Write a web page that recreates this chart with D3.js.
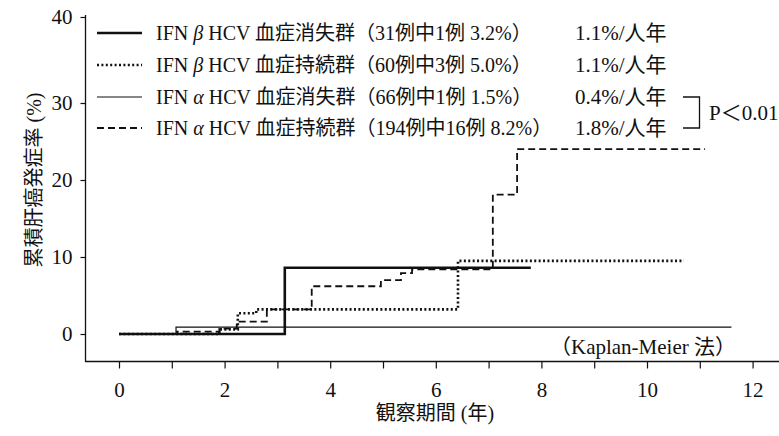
<!DOCTYPE html>
<html>
<head>
<meta charset="utf-8">
<script src="https://cdn.jsdelivr.net/npm/d3@7"></script>
<style>
  body { margin: 0; background: #fff; }
  svg text { font-family: "Liberation Serif", "Noto Sans CJK JP", serif; fill: #111; }
</style>
</head>
<body>
<div id="chart"></div>
<script>
// step curves: [year, cumulative %]
const betaCleared = [[0, 0], [3.14, 8.6], [7.8, 8.6]];
const betaPersist = [[0, 0], [1.9, 0.6], [2.25, 2.7], [2.6, 3.2], [6.42, 9.5], [10.7, 9.5]];
const alphaCleared = [[0, 0], [1.08, 0.9], [11.6, 0.9]];
const alphaPersist = [[0, 0], [1.1, 0.3], [1.9, 0.7], [2.23, 1.6], [2.8, 3.2], [3.65, 6.2],
  [4.96, 7.0], [5.34, 7.9], [5.55, 8.4], [7.08, 18.1], [7.54, 24.0], [11.1, 24.0]];

const groupNames = ['血症消失群', '血症持続群', '血症消失群', '血症持続群'];
const groupDrugs = ['β', 'β', 'α', 'α'];
const groupCounts = ['（31例中1例 3.2%）', '（60例中3例 5.0%）', '（66例中1例 1.5%）', '（194例中16例 8.2%）'];
const groupRates = ['1.1%/人年', '1.1%/人年', '0.4%/人年', '1.8%/人年'];

const xTicks = [0, 1, 2, 3, 4, 5, 6, 7, 8, 9, 10, 11, 12];
const yTicks = [0, 10, 20, 30, 40];

const width = 779, height = 436;

const styles = [
  { w: 2.6, dash: null },
  { w: 2.6, dash: '2,2.4' },
  { w: 1.2, dash: null },
  { w: 1.8, dash: '7,4' }
];
const series = [betaCleared, betaPersist, alphaCleared, alphaPersist];

const svg = d3.select('#chart').append('svg')
  .attr('width', width)
  .attr('height', height);

const x = d3.scaleLinear().domain([0, 12]).range([119, 752.6]);
// the printed axis is a bit stretched above 30
const y = d3.scaleLinear().domain([0, 30, 40]).range([334, 103, 17]);

// axes
svg.append('line')
  .attr('x1', 85.5).attr('x2', 85.5)
  .attr('y1', 15).attr('y2', 361.5)
  .attr('stroke', '#111').attr('stroke-width', 1.3);
svg.append('line')
  .attr('x1', 85).attr('x2', 779)
  .attr('y1', 361.5).attr('y2', 361.5)
  .attr('stroke', '#111').attr('stroke-width', 1.3);

const xAxis = svg.append('g')
  .attr('transform', 'translate(0,361.5)')
  .call(d3.axisBottom(x).tickValues(xTicks).tickSize(7).tickPadding(14)
    .tickFormat(d => d % 2 === 0 ? d : ''));
xAxis.select('.domain').remove();
xAxis.selectAll('text').attr('font-size', 21).attr('font-family', null);
xAxis.selectAll('line').attr('stroke', '#111').attr('stroke-width', 1.2);

const yAxis = svg.append('g')
  .attr('transform', 'translate(85.5,0)')
  .call(d3.axisLeft(y).tickValues(yTicks).tickSize(5).tickPadding(8));
yAxis.select('.domain').remove();
yAxis.selectAll('text').attr('font-size', 21).attr('font-family', null);
yAxis.selectAll('line').attr('stroke', '#111').attr('stroke-width', 1.2);

// axis titles
svg.append('text')
  .attr('transform', 'translate(36,180) rotate(-90)')
  .attr('text-anchor', 'middle')
  .attr('dominant-baseline', 'middle')
  .attr('font-size', 20)
  .text('累積肝癌発症率 (%)');

svg.append('text')
  .attr('x', 435).attr('y', 420)
  .attr('text-anchor', 'middle')
  .attr('font-size', 20)
  .text('観察期間 (年)');

svg.append('text')
  .attr('x', 736).attr('y', 354)
  .attr('text-anchor', 'end')
  .attr('font-size', 21)
  .text('（Kaplan-Meier 法）');

// curves
const line = d3.line()
  .x(d => x(d[0]))
  .y(d => y(d[1]))
  .curve(d3.curveStepAfter);

series.forEach((s, i) => {
  svg.append('path')
    .datum(s)
    .attr('fill', 'none')
    .attr('stroke', '#111')
    .attr('stroke-width', styles[i].w)
    .attr('stroke-dasharray', styles[i].dash)
    .attr('d', line);
});

// legend
const rowY = [33, 65, 97, 128];
groupNames.forEach((name, i) => {
  svg.append('line')
    .attr('x1', 97).attr('x2', 142)
    .attr('y1', rowY[i]).attr('y2', rowY[i])
    .attr('stroke', '#111')
    .attr('stroke-width', styles[i].w)
    .attr('stroke-dasharray', styles[i].dash);

  const t = svg.append('text')
    .attr('x', 156).attr('y', rowY[i] + 7)
    .attr('font-size', 20);
  t.append('tspan').text('IFN ');
  t.append('tspan').attr('font-style', 'italic').text(groupDrugs[i]);
  t.append('tspan').text(' HCV ' + name + groupCounts[i]);

  svg.append('text')
    .attr('x', 575).attr('y', rowY[i] + 7)
    .attr('font-size', 21)
    .text(groupRates[i]);
});

// significance bracket between the two IFN alpha groups
svg.append('path')
  .attr('d', `M683,${rowY[2]}H699.5V${rowY[3]}H683`)
  .attr('fill', 'none')
  .attr('stroke', '#111')
  .attr('stroke-width', 1.3);
svg.append('text')
  .attr('x', 709).attr('y', 120)
  .attr('font-size', 21)
  .text('P＜0.01');
</script>
</body>
</html>
